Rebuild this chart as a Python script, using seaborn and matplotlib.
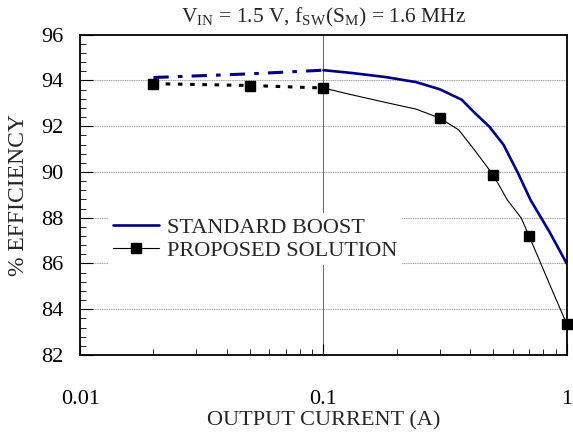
import numpy as np
import pandas as pd
import matplotlib
matplotlib.use('agg')
import matplotlib.pyplot as plt
from matplotlib.lines import Line2D
from matplotlib.ticker import FixedLocator, NullFormatter
import seaborn as sns

# standard boost: dash-dot part (light load) and solid part
std_low_x = [0.02, 0.05, 0.1]
std_low_y = [94.13, 94.29, 94.45]
std_hi_x = [0.1, 0.13, 0.18, 0.24, 0.3, 0.37, 0.42, 0.48, 0.55, 0.63, 0.71, 0.85, 1.0]
std_hi_y = [94.45, 94.33, 94.15, 93.93, 93.62, 93.16, 92.57, 91.99, 91.19, 89.96, 88.78, 87.38, 86.0]

# proposed solution: dotted part, solid part, measured points
prop_low_x = [0.02, 0.05, 0.1]
prop_low_y = [93.86, 93.78, 93.67]
prop_hi_x = [0.1, 0.13, 0.18, 0.24, 0.3, 0.36, 0.42, 0.5, 0.57, 0.65, 0.7, 0.85, 1.0]
prop_hi_y = [93.67, 93.38, 93.04, 92.75, 92.36, 91.84, 90.93, 89.85, 88.78, 87.99, 87.21, 85.1, 83.36]
mark_x = [0.02, 0.05, 0.1, 0.3, 0.5, 0.7, 1.0]
mark_y = [93.86, 93.78, 93.67, 92.36, 89.85, 87.21, 83.36]

y_ticks = [82, 84, 86, 88, 90, 92, 94, 96]
x_ticks = [0.01, 0.1, 1]
x_ticklabels = ['0.01', '0.1', '1']

blue = '#000080'

sns.set_style('ticks')
plt.rcParams['font.family'] = ['Liberation Serif', 'DejaVu Serif']
plt.rcParams['mathtext.fontset'] = 'custom'
plt.rcParams['mathtext.rm'] = 'Liberation Serif'

fig, ax = plt.subplots(figsize=(5.73, 4.34), dpi=100)
fig.subplots_adjust(left=0.14, right=0.989, top=0.92, bottom=0.182)

sns.lineplot(x=std_low_x, y=std_low_y, ax=ax, color=blue, lw=2.2,
             linestyle=(0, (5, 3, 1.5, 3)), sort=False)
sns.lineplot(x=std_hi_x, y=std_hi_y, ax=ax, color=blue, lw=1.9, sort=False)
sns.lineplot(x=prop_low_x, y=prop_low_y, ax=ax, color='black', lw=2.2,
             linestyle=(0, (1.5, 2.5)), sort=False)
sns.lineplot(x=prop_hi_x, y=prop_hi_y, ax=ax, color='black', lw=0.8, sort=False)
ax.plot(mark_x, mark_y, ls='none', marker='s', ms=6.5, color='black', clip_on=False, zorder=5)

ax.set_xscale('log')
ax.set_xlim(0.01, 1)
ax.set_ylim(82, 96)
ax.set_xticks(x_ticks)
ax.set_xticklabels(x_ticklabels)
ax.xaxis.set_minor_locator(FixedLocator([k * 10.0 ** e for e in (-2, -1) for k in range(2, 10)]))
ax.xaxis.set_minor_formatter(NullFormatter())
ax.set_yticks(y_ticks)
ax.yaxis.set_minor_locator(FixedLocator(np.arange(82, 96.01, 0.4)))

ax.tick_params(which='both', direction='in', labelsize=16, colors='black')
ax.tick_params(axis='x', which='major', length=8, pad=25)
ax.tick_params(axis='y', which='major', length=9, pad=12)
ax.tick_params(which='minor', length=4.5)

for v in [84, 86, 88, 90, 92, 94]:
    ax.axhline(v, color='#a0a0a0', lw=0.8, ls=(0, (1, 0.6)), zorder=0)
ax.axvline(0.1, color='#707070', lw=0.8, zorder=0)

for s in ax.spines.values():
    s.set_color('black')
    s.set_linewidth(1.3)

ax.set_xlabel('OUTPUT CURRENT (A)', fontsize=16, labelpad=2)
ax.set_ylabel('% EFFICIENCY', fontsize=17, labelpad=9)
ax.set_title(r'V$_{\mathrm{IN}}$ = 1.5 V, f$_{\mathrm{SW}}$(S$_{\mathrm{M}}$) = 1.6 MHz',
             fontsize=15.5, pad=9)

handles = [Line2D([], [], color=blue, lw=1.9),
           Line2D([], [], color='black', lw=0.8, marker='s', ms=6.5)]
leg = ax.legend(handles, ['STANDARD BOOST', 'PROPOSED SOLUTION'], loc='upper left',
                bbox_to_anchor=(0.035, 0.479), fontsize=16, frameon=True, framealpha=1,
                facecolor='white', edgecolor='none', fancybox=False,
                handlelength=2.1, handletextpad=0.35, labelspacing=0.12, borderpad=0.2)
leg.set_zorder(4)

fig.savefig('out.png', dpi=100)
plt.close(fig)
